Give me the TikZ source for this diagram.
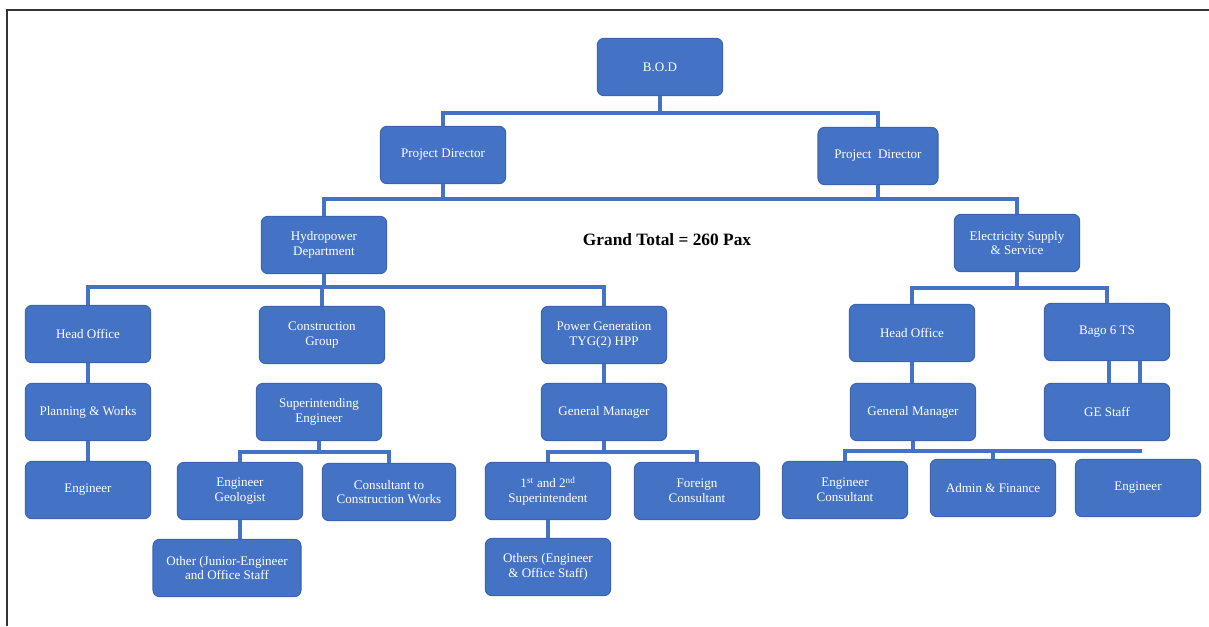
\documentclass[tikz,border=0pt]{standalone}
\usepackage{fontspec}
\setmainfont{Liberation Serif}
\definecolor{boxblue}{HTML}{4472C4}
\definecolor{boxedge}{HTML}{3A64B0}
\definecolor{framegray}{HTML}{333333}
\tikzset{
  orgbox/.style={draw=boxedge, line width=0.8pt, fill=boxblue, rounded corners=5pt,
    text=white, align=center, minimum width=94pt, minimum height=43pt,
    inner sep=2pt, font=\fontsize{9.8}{11}\selectfont},
  link/.style={draw=boxblue, line width=2.8pt}
}
\begin{document}
\begin{tikzpicture}[x=0.75pt, y=-0.75pt]
  \useasboundingbox (0,0) rectangle (1209,626);
  \draw[framegray, line width=1.6pt] (7,626) -- (7,10) -- (1209,10);
  \coordinate (busA) at (0,113);
  \coordinate (busB) at (0,199);
  \coordinate (busC) at (0,287);
  \coordinate (busD) at (0,288);
  \coordinate (busE) at (0,452);
  \coordinate (busG) at (0,451);
  \coordinate (busGend) at (1142,451);
  \coordinate (bagoA) at (1109,0);
  \coordinate (bagoB) at (1140,0);

  \node[orgbox] (bod) at (660,67) {B.O.D};
  \node[orgbox] (pdL) at (443,155) {Project Director};
  \node[orgbox, minimum width=90pt] (pdR) at (878,156) {Project\ \ Director};
  \node[orgbox] (hyd) at (324,245) {Hydropower\\Department};
  \node[orgbox] (elec) at (1017,243) {Electricity Supply\\\& Service};
  \node[font=\fontsize{13}{15}\selectfont\bfseries] (total) at (667,240) {Grand Total = 260 Pax};

  \node[orgbox] (hoL) at (88,334) {Head Office};
  \node[orgbox] (cg) at (322,335) {Construction\\Group};
  \node[orgbox] (pg) at (604,335) {Power Generation\\TYG(2) HPP};
  \node[orgbox] (pw) at (88,412) {Planning \& Works};
  \node[orgbox] (se) at (319,412) {Superintending\\Engineer};
  \node[orgbox] (gmL) at (604,412) {General Manager};
  \node[orgbox] (engL) at (88,490) {Engineer};
  \node[orgbox] (eg) at (240,491) {Engineer\\Geologist};
  \node[orgbox, minimum width=100pt] (ctcw) at (389,492) {Consultant to\\Construction Works};
  \node[orgbox] (sup) at (548,491) {1\textsuperscript{st} and 2\textsuperscript{nd}\\Superintendent};
  \node[orgbox] (fc) at (697,491) {Foreign\\Consultant};
  \node[orgbox, minimum width=111pt] (oth) at (227,568) {Other (Junior-Engineer\\and Office Staff};
  \node[orgbox] (others) at (548,567) {Others (Engineer\\\& Office Staff)};

  \node[orgbox] (hoR) at (912,333) {Head Office};
  \node[orgbox] (bago) at (1107,332) {Bago 6 TS};
  \node[orgbox] (gmR) at (913,412) {General Manager};
  \node[orgbox] (ge) at (1107,412) {GE Staff};
  \node[orgbox] (ec) at (845,490) {Engineer\\Consultant};
  \node[orgbox] (af) at (993,488) {Admin \& Finance};
  \node[orgbox] (engR) at (1138,488) {Engineer};

  \draw[link] (bod.south) -- (bod.south |- busA) -| (pdL.north);
  \draw[link] (bod.south |- busA) -| (pdR.north);
  \draw[link] (pdL.south) -- (pdL.south |- busB) -| (hyd.north);
  \draw[link] (pdR.south) -- (pdR.south |- busB) -| (elec.north);
  \draw[link] (pdL.south |- busB) -- (pdR.south |- busB);

  \draw[link] (hyd.south) -- (hyd.south |- busC) -| (hoL.north);
  \draw[link] (hyd.south |- busC) -| (cg.north);
  \draw[link] (hyd.south |- busC) -| (pg.north);
  \draw[link] (hoL) -- (pw) -- (engL);
  \draw[link] (pg) -- (gmL);
  \draw[link] (se.south) -- (se.south |- busE) -| (eg.north);
  \draw[link] (se.south |- busE) -| (ctcw.north);
  \draw[link] (eg) -- (oth.north -| eg.south);
  \draw[link] (gmL.south) -- (gmL.south |- busE) -| (sup.north);
  \draw[link] (gmL.south |- busE) -| (fc.north);
  \draw[link] (sup) -- (others.north -| sup.south);

  \draw[link] (elec.south) -- (elec.south |- busD) -| (hoR.north);
  \draw[link] (elec.south |- busD) -| (bago.north);
  \draw[link] (hoR) -- (gmR.north -| hoR.south);
  \draw[link] (bago.south -| bagoA) -- (ge.north -| bagoA);
  \draw[link] (bago.south -| bagoB) -- (ge.north -| bagoB);
  \draw[link] (gmR.south) -- (gmR.south |- busG);
  \draw[link] (ec.north) |- (busGend);
  \draw[link] (af.north) -- (af.north |- busG);
\end{tikzpicture}
\end{document}
